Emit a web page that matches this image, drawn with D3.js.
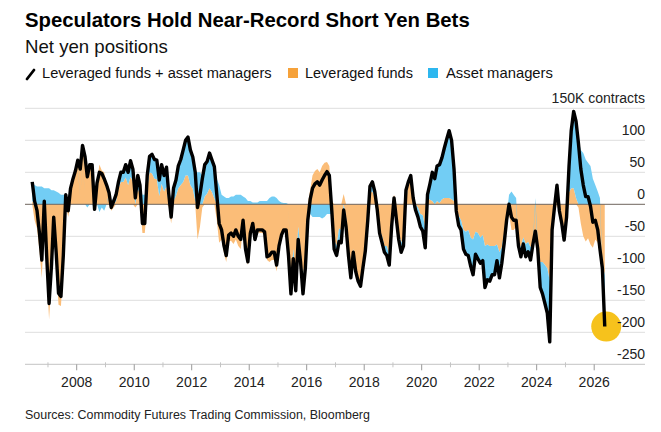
<!DOCTYPE html>
<html><head><meta charset="utf-8">
<script src="https://cdn.jsdelivr.net/npm/d3@7"></script>
<style>body{margin:0;background:#fff;} svg{display:block;font-family:"Liberation Sans",Arial,Helvetica,sans-serif;}</style>
</head><body><svg id="c" width="661" height="432"></svg>
<script>
// Monthly net yen positions (thousand contracts), June 2006 – May 2026
const firstMonth = [2006, 5]; // June 2006
const leveragedFunds = [
  5,-25,-38,-73,-115,-20,-105,-180,-117,-42,
  -95,-157,-159,-95,3,-20,15,35,47,64,
  55,87,75,48,62,62,0,33,62,53,
  50,30,13,-10,-5,5,25,35,35,42,
  30,43,35,-5,25,15,-45,-45,25,50,
  48,40,39,13,32,20,28,-3,-30,5,
  13,25,30,35,45,45,30,24,5,-55,
  -35,-5,12,17,25,19,9,-25,-60,-55,
  -77,-90,-58,-57,-62,-55,-65,-70,-37,-80,
  -95,-50,-33,-58,-43,-45,-45,-48,-87,-90,
  -87,-87,-105,-70,-51,-42,-42,-80,-130,-70,
  -115,-35,-70,-115,-80,-10,23,45,52,55,
  50,60,65,66,60,5,-55,-65,-38,-40,
  16,-20,-70,-110,-70,-100,-115,-125,-97,-68,
  -30,18,20,10,-13,-40,-50,-65,-65,-80,
  -25,15,-20,-45,-60,-50,22,30,40,15,
  1,-5,-15,-17,-38,10,7,5,0,5,
  2,8,10,10,10,8,5,-5,-18,-25,
  -40,-43,-40,-52,-55,-43,-45,-52,-48,-65,
  -63,-65,-65,-65,-63,-75,-67,-45,-20,-15,
  -40,-40,-35,-60,-67,-52,-62,-59,-67,-57,
  -52,-60,-90,-90,-95,-100,-120,-30,-14,5,
  -15,-25,-41,-20,19,25,25,10,-5,-30,
  -50,-58,-53,-63,-68,-55,-60,-80,-90,-111
];
const assetManagers = [
  30,30,28,28,28,25,25,25,22,22,
  20,18,15,15,12,10,10,5,5,5,
  0,5,0,-5,0,0,-8,0,-12,-5,
  -10,0,5,5,10,10,10,15,15,20,
  20,25,20,15,20,15,15,15,20,25,
  30,30,30,25,30,25,30,20,10,20,
  25,35,40,50,55,60,55,50,45,50,
  50,45,50,50,55,50,50,40,30,15,
  12,10,10,12,12,15,15,15,12,10,
  5,5,3,3,3,5,5,5,5,10,
  12,12,10,5,3,2,2,0,-10,-15,
  -20,-20,-20,-25,-20,-15,-15,-20,-20,-20,
  -20,-22,-20,-15,-15,-15,-15,-15,-20,-20,
  -25,-15,-10,-5,-5,-5,-5,-3,-3,-5,
  5,10,15,10,5,-5,-10,-10,-15,-15,
  -10,-5,-5,-10,-15,-15,0,5,5,-5,
  -10,-15,-20,-25,-30,5,25,45,40,55,
  60,65,78,92,105,92,50,-5,-15,-15,
  -30,-35,-40,-45,-55,-35,-40,-40,-40,-65,
  -55,-55,-45,-45,-25,-40,-25,-15,-5,15,
  20,15,10,-5,-15,-10,-20,-15,-20,-5,
  10,-10,-40,-50,-60,-70,-95,-10,10,25,
  5,-5,-15,0,40,90,120,120,100,85,
  80,70,65,60,40,30,20,10,-10,-80
];
const yTickValues = [150,100,50,0,-50,-100,-150,-200,-250];
const yTickLabels = ["150K contracts","100","50","0","-50","-100","-150","-200","-250"];
const xMajorYears = [2008,2010,2012,2014,2016,2018,2020,2022,2024,2026];
const xMinorYears = [2007,2009,2011,2013,2015,2017,2019,2021,2023,2025];
const legendLabels = ["Leveraged funds + asset managers","Leveraged funds","Asset managers"];

const C = {orangeArea:"#fbbd78", blueArea:"#72cdf4", orange:"#f6a23a", blue:"#2db7ef", line:"#000", yellow:"#f6c21c"};

const data = leveragedFunds.map((v,i)=>({
  date: new Date(firstMonth[0], firstMonth[1]+i, 15),
  lev: v, am: assetManagers[i], total: v + assetManagers[i]
}));

const svg = d3.select("#c");
const x = d3.scaleTime().domain([new Date(2008,0,1), new Date(2026,0,1)]).range([76.7, 594.2]);
const y = d3.scaleLinear().domain([-250,150]).range([364.3,108.3]);
const gx0 = 25, gx1 = 645;

function fit(sel, w){ const n=sel.node(); const cur=n.getComputedTextLength(); const fs=parseFloat(sel.attr("font-size")); sel.attr("font-size", fs*w/cur); return sel; }

// grid
svg.append("g").selectAll("line").data(yTickValues.filter(v=>v!==0)).join("line")
  .attr("x1",gx0).attr("x2",gx1).attr("y1",d=>y(d)).attr("y2",d=>y(d))
  .attr("stroke",d=>d===-250?"#c4c4c4":"#dedede").attr("stroke-width",1);

// stacked areas
const stack = d3.stack().keys(["lev","am"]).offset(d3.stackOffsetDiverging);
const series = stack(data);
const area = d3.area().x(d=>x(d.data.date)).y0(d=>y(d[0])).y1(d=>y(d[1]));
svg.append("g").selectAll("path").data(series).join("path")
  .attr("d",area).attr("fill",(d,i)=>i===0?C.orangeArea:C.blueArea);

// zero line
svg.append("line").attr("x1",gx0).attr("x2",gx1).attr("y1",y(0)).attr("y2",y(0))
  .attr("stroke","#6e655d").attr("stroke-width",1);

// highlight circle
const last = data[data.length-1];
svg.append("circle").attr("cx",x(last.date)+1.5).attr("cy",y(last.total)).attr("r",15).attr("fill",C.yellow);

// total line
svg.append("path").datum(data)
  .attr("d",d3.line().x(d=>x(d.date)).y(d=>y(d.total)))
  .attr("fill","none").attr("stroke",C.line).attr("stroke-width",3.4).attr("stroke-linejoin","round");

// y labels
svg.append("g").selectAll("text").data(yTickValues).join("text")
  .attr("x",gx1).attr("y",d=>y(d)-5).attr("text-anchor","end")
  .attr("font-size",14).attr("fill","#222").text((d,i)=>yTickLabels[i]);

// x axis ticks
const axisY = y(-250);
svg.append("g").selectAll("line").data(xMajorYears).join("line")
  .attr("x1",d=>x(new Date(d,0,1))).attr("x2",d=>x(new Date(d,0,1)))
  .attr("y1",axisY).attr("y2",axisY+6).attr("stroke","#999");
svg.append("g").selectAll("line").data(xMinorYears).join("line")
  .attr("x1",d=>x(new Date(d,0,1))).attr("x2",d=>x(new Date(d,0,1)))
  .attr("y1",axisY-2).attr("y2",axisY+3).attr("stroke","#c4c4c4");
svg.append("g").selectAll("text").data(xMajorYears).join("text")
  .attr("x",d=>x(new Date(d,0,1))).attr("y",387).attr("text-anchor","middle")
  .attr("font-size",14).attr("fill","#222").text(d=>d);

// titles
fit(svg.append("text").attr("x",25).attr("y",27).attr("font-size",20).attr("font-weight","bold").attr("fill","#000")
  .text("Speculators Hold Near-Record Short Yen Bets"),445);
fit(svg.append("text").attr("x",25).attr("y",53).attr("font-size",17).attr("fill","#111")
  .text("Net yen positions"),143);

// legend
svg.append("line").attr("x1",27).attr("y1",79).attr("x2",34).attr("y2",70).attr("stroke","#000").attr("stroke-width",2.8).attr("stroke-linecap","round");
fit(svg.append("text").attr("x",42).attr("y",78).attr("font-size",14).attr("fill","#111").text(legendLabels[0]),230);
svg.append("rect").attr("x",288).attr("y",68).attr("width",10).attr("height",10).attr("fill",C.orange);
fit(svg.append("text").attr("x",305).attr("y",78).attr("font-size",14).attr("fill","#111").text(legendLabels[1]),108);
svg.append("rect").attr("x",428).attr("y",68).attr("width",10).attr("height",10).attr("fill",C.blue);
fit(svg.append("text").attr("x",446).attr("y",78).attr("font-size",14).attr("fill","#111").text(legendLabels[2]),107);

// source
fit(svg.append("text").attr("x",25).attr("y",419).attr("font-size",12.5).attr("fill","#222")
  .text("Sources: Commodity Futures Trading Commission, Bloomberg"),345);
</script></body></html>
